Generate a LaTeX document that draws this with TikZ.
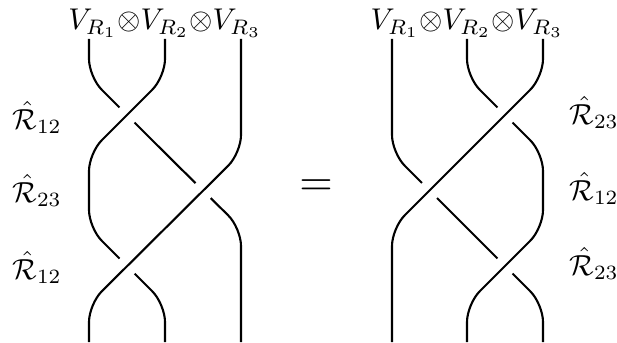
\documentclass[tikz,border=0pt]{standalone}
\begin{document}
\begin{tikzpicture}[x=1pt,y=-1pt,
  strand/.style={line width=2.1pt,rounded corners=18pt},
  overstrand/.style={strand,preaction={draw=white,line width=21pt,rounded corners=18pt}},
  lbl/.style={inner sep=0pt,scale=3.0},
  rlbl/.style={inner sep=0pt,scale=2.9,anchor=base west}]
\useasboundingbox (0,0) rectangle (617,342);
% top labels
\node[lbl,anchor=base] (topL) at (165,30) {$V_{R_1}{\otimes}V_{R_2}{\otimes}V_{R_3}$};
\node[lbl,anchor=base] (topR) at (467,30) {$V_{R_1}{\otimes}V_{R_2}{\otimes}V_{R_3}$};
% strand ends
\coordinate (La) at (89,39);  \coordinate (Lb) at (165,39);  \coordinate (Lc) at (241,39);
\coordinate (La') at (241,342); \coordinate (Lb') at (165,342); \coordinate (Lc') at (89,342);
\coordinate (Ra) at (392,39); \coordinate (Rb) at (467,39); \coordinate (Rc) at (543,39);
\coordinate (Ra') at (543,342); \coordinate (Rb') at (467,342); \coordinate (Rc') at (392,342);
% left braid
\draw[strand] (La) -- (89,77) -- (165,153) -- (241,228) -- (La');
\draw[overstrand] (Lb) -- (165,77) -- (89,153) -- (89,228) -- (165,304) -- (Lb');
\draw[overstrand] (Lc) -- (241,153) -- (89,304) -- (Lc');
% right braid
\draw[strand] (Ra) -- (392,153) -- (543,304) -- (Ra');
\draw[overstrand] (Rb) -- (467,77) -- (543,153) -- (543,228) -- (467,304) -- (Rb');
\draw[overstrand] (Rc) -- (543,77) -- (392,228) -- (Rc');
% equals
\node[inner sep=0pt,scale=4.3] (eq) at (316,188) {$=$};
% side labels
\node[rlbl] (l1) at (12,129) {$\hat{\mathcal{R}}_{12}$};
\node[rlbl] (l2) at (12,202) {$\hat{\mathcal{R}}_{23}$};
\node[rlbl] (l3) at (12,279) {$\hat{\mathcal{R}}_{12}$};
\node[rlbl] (r1) at (569,124) {$\hat{\mathcal{R}}_{23}$};
\node[rlbl] (r2) at (569,200) {$\hat{\mathcal{R}}_{12}$};
\node[rlbl] (r3) at (569,275) {$\hat{\mathcal{R}}_{23}$};
\end{tikzpicture}
\end{document}
